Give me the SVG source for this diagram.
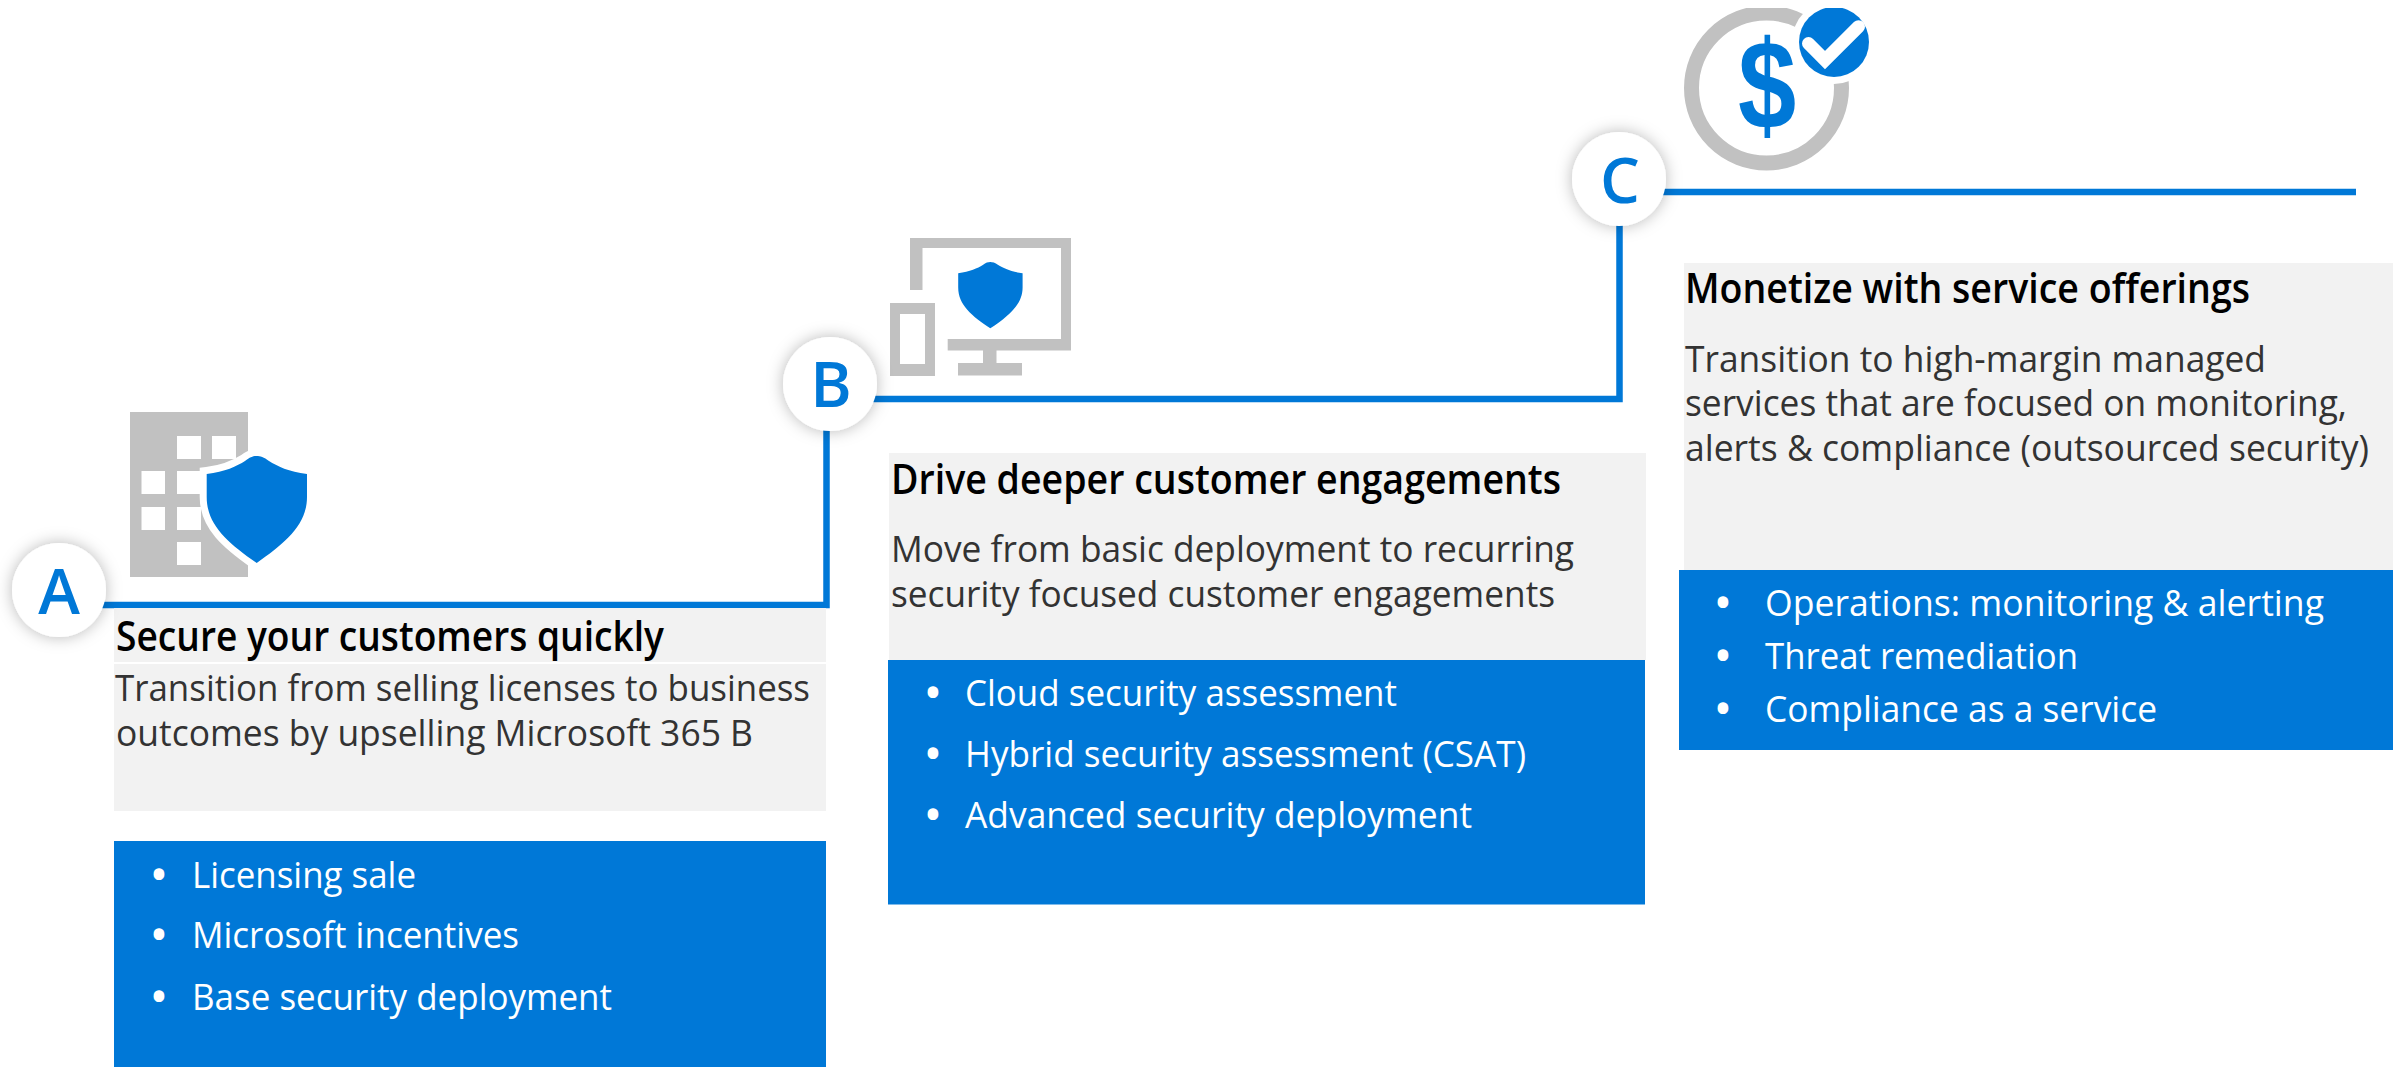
<svg xmlns="http://www.w3.org/2000/svg" xmlns:xlink="http://www.w3.org/1999/xlink" width="2403" height="1067" viewBox="0 0 2403 1067">
<style>
text{font-family:"Open Sans","Noto Sans","Liberation Sans",sans-serif}
.g{fill:#f2f2f2}.b{fill:#0078d7}.i{fill:#c1c1c1}.w{fill:#fff}
.h{font-size:42px;font-weight:600;fill:#000}
.t{font-size:37px;fill:#333}
.l{font-size:37px;fill:#fff}
.d{font-size:38px;font-weight:700;fill:#fff;text-anchor:middle}
.k{font-size:63px;font-weight:600;fill:#0078d7;text-anchor:middle}
.c{fill:none;stroke:#0078d7;stroke-width:6.500}
</style>
<defs>
<filter id="s" x="-50%" y="-50%" width="200%" height="200%"><feDropShadow dx="0" dy="0" stdDeviation="8" flood-color="#000" flood-opacity=".28"/></filter>
<path id="sh" d="M206.700 474C225 472 237 466 245 461C250 457 253 456 256.700 456C260 456 264 457 269 461C277 466 289 472 307 474L307 497C307 525 285 543 256.700 563C228 543 206.700 525 206.700 497Z"/>
<clipPath id="top"><rect x="1670" y="8" width="210" height="180"/></clipPath>
</defs>
<g id="connectors">
<path class="c" d="M100 605H826.500V425"/>
<path class="c" d="M870 399H1619.500V220"/>
<path class="c" d="M1660 192H2356"/>
</g>
<g id="node-a">
<rect class="g" x="114" y="608" width="712" height="54"/>
<rect class="g" x="114" y="664" width="712" height="147"/>
<rect class="b" x="114" y="841" width="712" height="226"/>
<path class="i" fill-rule="evenodd" d="M130 412H248V577H130ZM177 436V459H201V436ZM212 436V459H236V436ZM141.500 471V494H165V471ZM177 471V494H201V471ZM141.500 507V530H165V507ZM177 507V530H201V507ZM177 542V565H201V542Z"/>
<use xlink:href="#sh" href="#sh" class="b" stroke="#fff" stroke-width="14" paint-order="stroke"/>
<circle class="w" cx="59" cy="590" r="47" filter="url(#s)"/>
<text class="k" x="59" y="614">A</text>
<text class="h" x="116" y="651" textLength="548" lengthAdjust="spacingAndGlyphs">Secure your customers quickly</text>
<text class="t" x="115" y="701" textLength="695" lengthAdjust="spacingAndGlyphs">Transition from selling licenses to business</text>
<text class="t" x="116" y="746" textLength="637" lengthAdjust="spacingAndGlyphs">outcomes by upselling Microsoft 365 B</text>
<text class="d" x="159" y="888">•</text><text class="l" x="192" y="888" textLength="224" lengthAdjust="spacingAndGlyphs">Licensing sale</text>
<text class="d" x="159" y="948">•</text><text class="l" x="192" y="948" textLength="327" lengthAdjust="spacingAndGlyphs">Microsoft incentives</text>
<text class="d" x="159" y="1010">•</text><text class="l" x="192" y="1010" textLength="420" lengthAdjust="spacingAndGlyphs">Base security deployment</text>
</g>
<g id="node-b">
<rect class="g" x="889" y="453" width="757" height="207"/>
<rect class="b" x="888" y="660" width="757" height="244.500"/>
<path class="i" d="M910 238H1071V350.500H947.700V339H1061V248H922.500V290H910ZM983 350H996.500V363H1022V375.400H958V363H983Z"/>
<path class="i" fill-rule="evenodd" d="M890 303H935V376H890ZM900 314V364H925V314Z"/>
<use xlink:href="#sh" href="#sh" class="b" transform="translate(825.500 -20.700) scale(.642 .62)"/>
<circle class="w" cx="830" cy="384" r="47" filter="url(#s)"/>
<text class="k" x="831" y="407">B</text>
<text class="h" x="891" y="494" textLength="670" lengthAdjust="spacingAndGlyphs">Drive deeper customer engagements</text>
<text class="t" x="891" y="562" textLength="683" lengthAdjust="spacingAndGlyphs">Move from basic deployment to recurring</text>
<text class="t" x="891" y="607" textLength="664" lengthAdjust="spacingAndGlyphs">security focused customer engagements</text>
<text class="d" x="933" y="706">•</text><text class="l" x="965" y="706" textLength="432" lengthAdjust="spacingAndGlyphs">Cloud security assessment</text>
<text class="d" x="933" y="767">•</text><text class="l" x="965" y="767" textLength="561" lengthAdjust="spacingAndGlyphs">Hybrid security assessment (CSAT)</text>
<text class="d" x="933" y="828">•</text><text class="l" x="965" y="828" textLength="507" lengthAdjust="spacingAndGlyphs">Advanced security deployment</text>
</g>
<g id="node-c">
<rect class="g" x="1684" y="263" width="709" height="307"/>
<rect class="b" x="1679" y="570" width="714" height="180"/>
<g clip-path="url(#top)">
<circle cx="1766.500" cy="88" r="75" fill="none" stroke="#c1c1c1" stroke-width="15"/>
<circle class="w" cx="1834" cy="42" r="42"/>
<circle class="b" cx="1834" cy="42" r="35"/>
</g>
<path d="M1808.500 43.500L1825 60L1858.500 26.700" fill="none" stroke="#fff" stroke-width="13" stroke-linecap="round"/>
<text transform="translate(1767 129) scale(.83 1)" x="0" y="0" font-size="126" font-weight="700" fill="#0078d7" text-anchor="middle" style="font-family:'Liberation Sans',sans-serif">$</text>
<circle class="w" cx="1619" cy="179" r="47" filter="url(#s)"/>
<text class="k" x="1620" y="203">C</text>
<text class="h" x="1685" y="303" textLength="565" lengthAdjust="spacingAndGlyphs">Monetize with service offerings</text>
<text class="t" x="1685" y="372" textLength="581" lengthAdjust="spacingAndGlyphs">Transition to high-margin managed</text>
<text class="t" x="1685" y="416" textLength="662" lengthAdjust="spacingAndGlyphs">services that are focused on monitoring,</text>
<text class="t" x="1685" y="461" textLength="684" lengthAdjust="spacingAndGlyphs">alerts &amp; compliance (outsourced security)</text>
<text class="d" x="1723" y="616">•</text><text class="l" x="1765" y="616" textLength="559" lengthAdjust="spacingAndGlyphs">Operations: monitoring &amp; alerting</text>
<text class="d" x="1723" y="669">•</text><text class="l" x="1765" y="669" textLength="313" lengthAdjust="spacingAndGlyphs">Threat remediation</text>
<text class="d" x="1723" y="722">•</text><text class="l" x="1765" y="722" textLength="392" lengthAdjust="spacingAndGlyphs">Compliance as a service</text>
</g>
</svg>
